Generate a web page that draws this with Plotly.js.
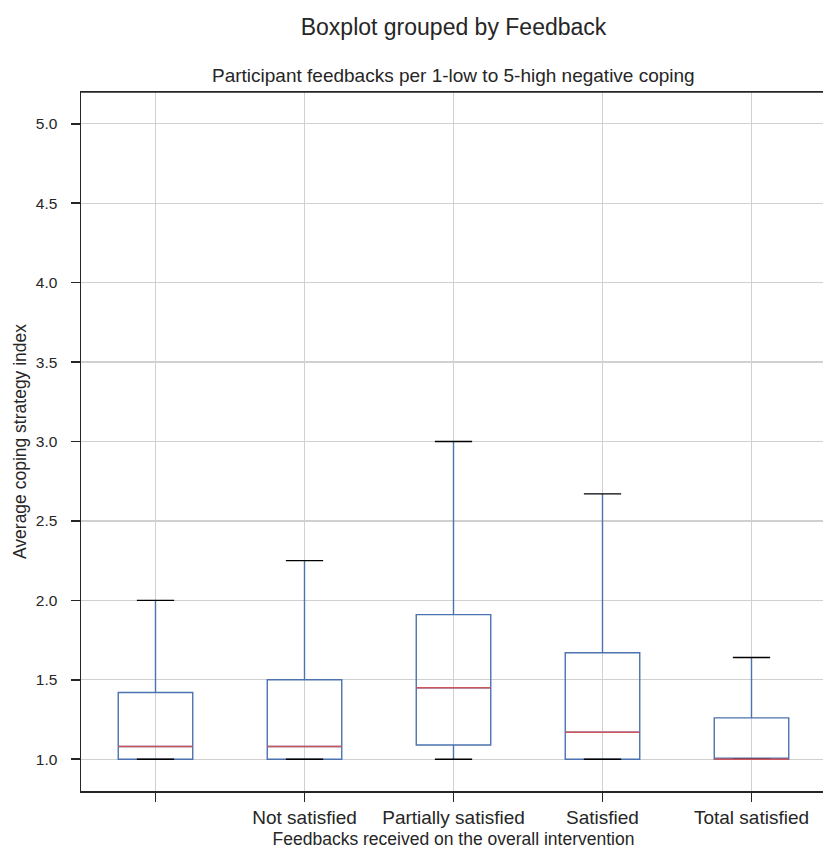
<!DOCTYPE html>
<html>
<head>
<meta charset="utf-8">
<script src="https://cdn.plot.ly/plotly-3.0.1.min.js"></script>
<style>
  html, body { margin: 0; padding: 0; overflow: hidden; background: #fff; }
  #chart { width: 826px; height: 849px; }
</style>
</head>
<body>
<div id="chart"></div>
<script>
// Feedback groups (the first group has no label)
const categories = ["", "Not satisfied", "Partially satisfied", "Satisfied", "Total satisfied"];

// Box statistics of the average coping strategy index per group
const lowerWhisker = [1.0, 1.0, 1.0, 1.0, 1.0];
const q1Values     = [1.0, 1.0, 1.09, 1.0, 1.0];
const medians      = [1.08, 1.08, 1.45, 1.17, 1.0];
const q3Values     = [1.42, 1.5, 1.91, 1.67, 1.26];
const upperWhisker = [2.0, 2.25, 3.0, 2.67, 1.64];

const yTicks = [1.0, 1.5, 2.0, 2.5, 3.0, 3.5, 4.0, 4.5, 5.0];

// Layout helpers
const positions = categories.map((_, i) => i + 1);
const BOX_WIDTH = 0.5;
const CAP_HALF = BOX_WIDTH / 4;
const MED_HALF = BOX_WIDTH / 2;

const BLUE = "#4C72B0";
const RED = "#D0555A";
const INK = "#262626";
const FONT = "Liberation Sans, Arial, sans-serif";

// Horizontal segments centred on each group position
function segments(valueLists, half) {
  const xs = [], ys = [];
  valueLists.forEach(values => {
    values.forEach((v, i) => {
      xs.push(positions[i] - half, positions[i] + half, null);
      ys.push(v, v, null);
    });
  });
  return { xs, ys };
}

const caps = segments([lowerWhisker, upperWhisker], CAP_HALF);
const med = segments([medians], MED_HALF);

const traces = [
  {
    type: "box",
    x: positions,
    q1: q1Values,
    median: medians,
    q3: q3Values,
    lowerfence: lowerWhisker,
    upperfence: upperWhisker,
    width: BOX_WIDTH,
    whiskerwidth: 0,
    boxpoints: false,
    fillcolor: "rgba(0,0,0,0)",
    line: { color: BLUE, width: 1.4 },
    hoverinfo: "skip",
    showlegend: false
  },
  {
    type: "scatter",
    mode: "lines",
    x: caps.xs,
    y: caps.ys,
    line: { color: "#000000", width: 1.4 },
    hoverinfo: "skip",
    showlegend: false
  },
  {
    type: "scatter",
    mode: "lines",
    x: med.xs,
    y: med.ys,
    line: { color: RED, width: 1.4 },
    hoverinfo: "skip",
    showlegend: false
  }
];

const layout = {
  width: 826,
  height: 849,
  margin: { l: 81, r: 0, t: 92, b: 58 },
  paper_bgcolor: "#ffffff",
  plot_bgcolor: "#ffffff",
  font: { family: FONT, color: INK },
  title: {
    text: "Boxplot grouped by Feedback",
    font: { family: FONT, size: 23, color: INK },
    x: 0.5,
    xref: "paper",
    y: 1 - 27 / 849,
    yref: "container",
    yanchor: "middle"
  },
  xaxis: {
    range: [0.5, 5.5],
    tickvals: positions,
    ticktext: categories,
    tickfont: { family: FONT, size: 19, color: INK },
    ticks: "outside",
    ticklen: 9,
    tickwidth: 1.5,
    tickcolor: INK,
    showgrid: true,
    gridcolor: "#d0d0d0",
    gridwidth: 1.2,
    showline: true,
    linecolor: INK,
    linewidth: 1.5,
    mirror: true,
    zeroline: false,
    fixedrange: true,
    title: {
      text: "Feedbacks received on the overall intervention",
      font: { family: FONT, size: 17.5, color: INK },
      standoff: 6
    }
  },
  yaxis: {
    range: [0.8, 5.2],
    tickvals: yTicks,
    tickformat: ".1f",
    tickfont: { family: FONT, size: 15.5, color: INK },
    ticklabelstandoff: 10,
    ticks: "outside",
    ticklen: 9,
    tickwidth: 1.5,
    tickcolor: INK,
    showgrid: true,
    gridcolor: "#d0d0d0",
    gridwidth: 1.2,
    showline: true,
    linecolor: INK,
    linewidth: 1.5,
    mirror: true,
    zeroline: false,
    fixedrange: true,
    title: {
      text: "Average coping strategy index",
      font: { family: FONT, size: 17.5, color: INK },
      standoff: 4
    }
  },
  shapes: [
    {
      // top frame edge
      type: "line",
      xref: "paper",
      yref: "paper",
      x0: 0,
      x1: 1,
      y0: 1,
      y1: 1,
      line: { color: INK, width: 1.5 },
      layer: "above"
    }
  ],
  annotations: [
    {
      text: "Participant feedbacks per 1-low to 5-high negative coping",
      xref: "paper",
      yref: "paper",
      x: 0.5,
      y: 1,
      xanchor: "center",
      yanchor: "bottom",
      yshift: 4,
      showarrow: false,
      font: { family: FONT, size: 19, color: INK }
    }
  ]
};

Plotly.newPlot("chart", traces, layout, { displayModeBar: false, staticPlot: true });
</script>
</body>
</html>
